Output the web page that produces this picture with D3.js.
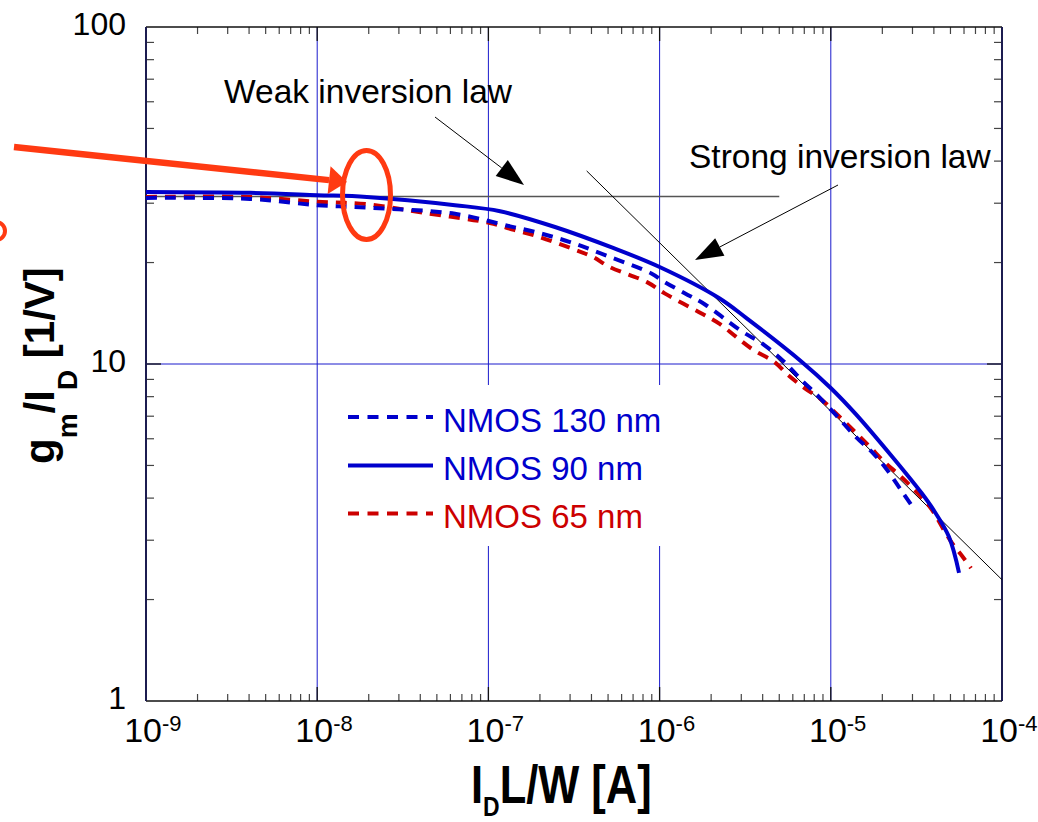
<!DOCTYPE html>
<html><head><meta charset="utf-8">
<script src="https://cdn.jsdelivr.net/npm/d3@7"></script>
<style>html,body{margin:0;padding:0;background:#fff;}svg{display:block;font-family:Arial,"Liberation Sans",sans-serif;}</style>
</head><body>
<svg id="c" width="1038" height="822"></svg>
<script>
// ---- data ----
const seriesNames = ["NMOS 130 nm", "NMOS 90 nm", "NMOS 65 nm"];
const seriesColors = ["#0000cc", "#0000cc", "#cc0000"];
const seriesDash = ["11,8", null, "11,8"];

const nmos130_I  = [1e-9,4.05e-9,1e-8,1.95e-8,6.38e-8,1.34e-7,1.85e-7,3.08e-7,5.11e-7,8.9e-7,1.07e-6,1.41e-6,1.86e-6,2.95e-6,4.07e-6,5.33e-6,6.75e-6,8.5e-6,1.07e-5,1.40e-5,1.77e-5,2.13e-5,2.57e-5,3.09e-5];
const nmos130_gm = [31.1,30.9,29.6,29.1,27.9,25.6,24.7,22.9,20.8,18.6,17.5,16.2,14.97,12.6,11.4,10.16,8.96,8.0,7.06,6.08,5.43,4.85,4.23,3.69];

const nmos90_I  = [1e-9,4.05e-9,1e-8,1.95e-8,6.38e-8,1.17e-7,2.45e-7,5.35e-7,1.0e-6,2.22e-6,3.23e-6,6.75e-6,9.99e-6,1.40e-5,2.24e-5,3.39e-5,3.98e-5,4.9e-5,5.61e-5];
const nmos90_gm = [32.4,32.2,31.7,31.3,29.6,28.4,25.5,22.1,19.4,15.7,13.66,10.16,8.49,7.1,5.37,4.14,3.69,3.07,2.40];

const nmos65_I  = [1e-9,4.05e-9,1e-8,1.95e-8,4.15e-8,1.02e-7,1.41e-7,1.85e-7,3.08e-7,4.06e-7,5.11e-7,8.44e-7,1.07e-6,1.77e-6,2.22e-6,2.79e-6,3.54e-6,4.66e-6,5.62e-6,7.06e-6,8.88e-6,1.07e-5,1.35e-5,1.69e-5,2.05e-5,2.57e-5,3.23e-5,3.90e-5,4.46e-5,5.11e-5,5.89e-5,6.59e-5];
const nmos65_gm = [31.3,31.3,30.3,29.8,28.1,26.2,25.0,24.1,22.0,20.8,19.4,17.5,16.2,14.1,13.2,12.05,11.0,10.16,9.28,8.47,7.82,7.14,6.37,5.68,5.13,4.63,4.13,3.69,3.29,2.94,2.68,2.48];

// asymptotes
const weakLaw_I  = [1e-9, 5e-6];
const weakLaw_gm = [31.4, 31.4];
const strongLaw_I  = [3.75e-7, 1e-4];
const strongLaw_gm = [37.4, 2.29];

const xTickExps = [-9,-8,-7,-6,-5,-4];
const yTickVals = [1,10,100];
const yTickLabels = ["1","10","100"];

// ---- layout ----
const L=146, R=1002, T=27, B=701;
const x = d3.scaleLog().domain([1e-9,1e-4]).range([L,R]);
const y = d3.scaleLog().domain([1,100]).range([B,T]);
const svg = d3.select("#c");

// grid
const gridC = "#1a1acc";
svg.append("g").selectAll("line").data(xTickExps.slice(1,-1)).join("line")
  .attr("x1",d=>x(Math.pow(10,d))).attr("x2",d=>x(Math.pow(10,d)))
  .attr("y1",T).attr("y2",B).attr("stroke",gridC).attr("stroke-width",1);
svg.append("line").attr("x1",L).attr("x2",R).attr("y1",y(10)).attr("y2",y(10))
  .attr("stroke",gridC).attr("stroke-width",1);

// legend background (white, covers grid)
svg.append("rect").attr("x",325).attr("y",385).attr("width",343).attr("height",161).attr("fill","#fff");

// minor ticks
const tickC="#444";
const minorX=[], minorY=[];
for(let e=-9;e<-4;e++) for(let k=2;k<=9;k++) minorX.push(k*Math.pow(10,e));
for(let e=0;e<2;e++) for(let k=2;k<=9;k++) minorY.push(k*Math.pow(10,e));
const tk = svg.append("g").attr("stroke",tickC).attr("stroke-width",1.2);
minorX.forEach(v=>{
  tk.append("line").attr("x1",x(v)).attr("x2",x(v)).attr("y1",T).attr("y2",T+7);
  tk.append("line").attr("x1",x(v)).attr("x2",x(v)).attr("y1",B).attr("y2",B-7);
});
minorY.forEach(v=>{
  tk.append("line").attr("y1",y(v)).attr("y2",y(v)).attr("x1",L).attr("x2",L+8);
  tk.append("line").attr("y1",y(v)).attr("y2",y(v)).attr("x1",R).attr("x2",R-8);
});
const mk = svg.append("g").attr("stroke","#111").attr("stroke-width",1.3);
xTickExps.forEach(e=>{
  const xv=x(Math.pow(10,e));
  mk.append("line").attr("x1",xv).attr("x2",xv).attr("y1",T).attr("y2",T+14);
  mk.append("line").attr("x1",xv).attr("x2",xv).attr("y1",B).attr("y2",B-14);
});
mk.append("line").attr("x1",L).attr("x2",L+15).attr("y1",y(10)).attr("y2",y(10));
mk.append("line").attr("x1",R).attr("x2",R-15).attr("y1",y(10)).attr("y2",y(10));

// frame
svg.append("line").attr("x1",L).attr("x2",R).attr("y1",T).attr("y2",T).attr("stroke","#111").attr("stroke-width",1.5);
svg.append("line").attr("x1",L).attr("x2",R).attr("y1",B).attr("y2",B).attr("stroke","#111").attr("stroke-width",1.5);
svg.append("line").attr("x1",L).attr("x2",L).attr("y1",T).attr("y2",B).attr("stroke","#1c1c50").attr("stroke-width",2);
svg.append("line").attr("x1",R).attr("x2",R).attr("y1",T).attr("y2",B).attr("stroke","#1c1c50").attr("stroke-width",2);

// tick labels
svg.append("g").selectAll("text").data(yTickVals).join("text")
  .attr("x",126).attr("y",d=>y(d)+8).attr("text-anchor","end")
  .attr("font-size",32).attr("fill","#000").text((d,i)=>yTickLabels[i]);
const xl = svg.append("g");
xTickExps.forEach(e=>{
  const xv=x(Math.pow(10,e));
  xl.append("text").attr("x",xv+16).attr("y",742).attr("text-anchor","end").attr("font-size",34).text("10");
  xl.append("text").attr("x",xv+16).attr("y",731).attr("text-anchor","start").attr("font-size",22).text(String(e));
});

// asymptote lines
const lineGen = d3.line().x(d=>x(d[0])).y(d=>y(d[1]));
svg.append("path").attr("d",lineGen(d3.zip(weakLaw_I,weakLaw_gm))).attr("fill","none").attr("stroke","#555").attr("stroke-width",1.5);
svg.append("path").attr("d",lineGen(d3.zip(strongLaw_I,strongLaw_gm))).attr("fill","none").attr("stroke","#000").attr("stroke-width",1);

// curves
const curveGen = d3.line().x(d=>x(d[0])).y(d=>y(d[1])).curve(d3.curveCatmullRom.alpha(0.5));
const series = [d3.zip(nmos130_I,nmos130_gm), d3.zip(nmos90_I,nmos90_gm), d3.zip(nmos65_I,nmos65_gm)];
[2,0,1].forEach(i=>{
  const p = svg.append("path").attr("d",curveGen(series[i])).attr("fill","none")
    .attr("stroke",seriesColors[i]).attr("stroke-width",4);
  if(seriesDash[i]) p.attr("stroke-dasharray",seriesDash[i]);
});

// legend
const legY=[417,465.5,513.5];
seriesNames.forEach((n,i)=>{
  const l = svg.append("line").attr("x1",348).attr("x2",433).attr("y1",legY[i]).attr("y2",legY[i])
    .attr("stroke",seriesColors[i]).attr("stroke-width",4);
  if(seriesDash[i]) l.attr("stroke-dasharray","11,8.5");
  svg.append("text").attr("x",443).attr("y",legY[i]+14.5).attr("font-size",33).attr("fill",seriesColors[i]).text(n);
});

// annotations
svg.append("text").attr("x",224).attr("y",103).attr("font-size",33.5).text("Weak inversion law");
svg.append("text").attr("x",689).attr("y",168).attr("font-size",33.5).text("Strong inversion law");

function arrow(x1,y1,x2,y2,color,w,hl,hw){
  const a=Math.atan2(y2-y1,x2-x1);
  const bx=x2-hl*Math.cos(a), by=y2-hl*Math.sin(a);
  svg.append("line").attr("x1",x1).attr("y1",y1).attr("x2",bx).attr("y2",by).attr("stroke",color).attr("stroke-width",w);
  const px=-Math.sin(a)*hw/2, py=Math.cos(a)*hw/2;
  svg.append("path").attr("d",`M${x2},${y2}L${bx+px},${by+py}L${bx-px},${by-py}Z`).attr("fill",color);
}
arrow(435,117,524,185,"#000",1,28,20);
arrow(838,185,695,260,"#000",1,28,20);

const orange="#ff3a12";
arrow(14,147,347,182,orange,6.5,18,28);
svg.append("ellipse").attr("cx",366.5).attr("cy",195).attr("rx",24).attr("ry",44.5)
  .attr("fill","none").attr("stroke",orange).attr("stroke-width",5);
svg.append("circle").attr("cx",-4).attr("cy",231).attr("r",9).attr("fill","none").attr("stroke",orange).attr("stroke-width",4);

// axis titles
const xt = svg.append("text").attr("transform","translate(471,803) scale(0.82,1)").attr("font-size",53).attr("font-weight","bold");
xt.append("tspan").attr("x",0).text("I");
xt.append("tspan").attr("dy",13).attr("font-size",28).text("D");
xt.append("tspan").attr("dy",-13).text("L/W [A]");

const yt = svg.append("text").attr("transform","translate(54,464) rotate(-90)").attr("font-size",42).attr("font-weight","bold");
yt.append("tspan").text("g");
yt.append("tspan").attr("dy",23).attr("font-size",28).text("m");
yt.append("tspan").attr("dy",-23).text("/I");
yt.append("tspan").attr("dy",23).attr("font-size",28).text("D");
yt.append("tspan").attr("dy",-23).text(" [1/V]");
</script>
</body></html>
